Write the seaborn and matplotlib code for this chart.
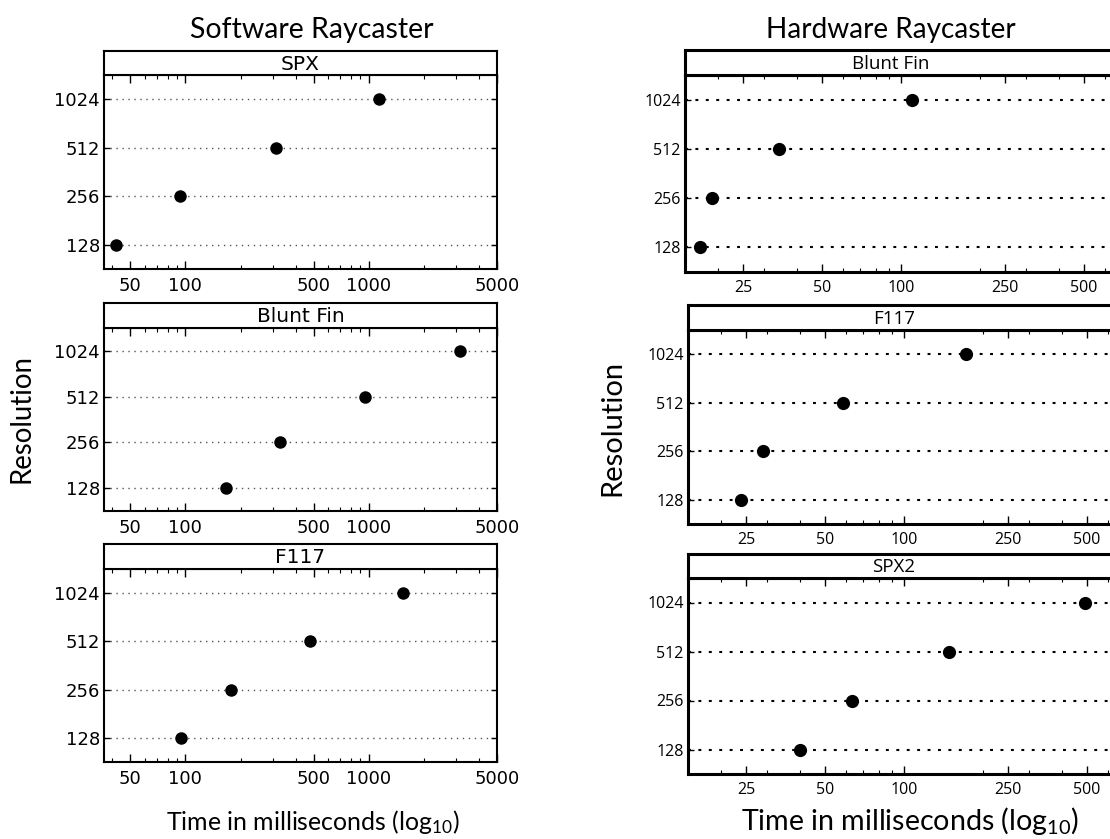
import matplotlib
matplotlib.use("Agg")
import matplotlib.pyplot as plt
import matplotlib.ticker as mticker
import pandas as pd
import seaborn as sns

# Volume resolutions (bottom to top) and rendering times in milliseconds
resolutions = ["128", "256", "512", "1024"]
res_order = ["1024", "512", "256", "128"]

sw_datasets = ["SPX", "Blunt Fin", "F117"]
sw_spx = [42, 94, 310, 1140]
sw_blunt_fin = [167, 330, 950, 3130]
sw_f117 = [95, 178, 478, 1540]

hw_datasets = ["Blunt Fin", "F117", "SPX2"]
hw_blunt_fin = [17.1, 19.0, 34.2, 110]
hw_f117 = [23.9, 29.0, 58.4, 172]
hw_spx2 = [40.1, 63.3, 148, 489]

sw_xticks = [50, 100, 500, 1000, 5000]
hw_xticks = [25, 50, 100, 250, 500]

sns.set_theme(style="white")
plt.rcParams["font.family"] = ["DejaVu Sans"]
plt.rcParams["text.color"] = "black"
plt.rcParams["axes.labelcolor"] = "black"
plt.rcParams["xtick.color"] = "black"
plt.rcParams["ytick.color"] = "black"
plt.rcParams["mathtext.fontset"] = "custom"
plt.rcParams["mathtext.rm"] = "Lato"
plt.rcParams["mathtext.it"] = "Lato"

TITLE_FONT = "Lato"

W, H = 1110, 839
fig = plt.figure(figsize=(W / 100, H / 100), dpi=100)
fig.patch.set_facecolor("white")


def box(left, top, right, bottom):
    """Axes rectangle in figure fraction from pixel edges."""
    return [left / W, 1 - bottom / H, (right - left) / W, (bottom - top) / H]


def panel(rect, strip_rect, values, name, cfg):
    ax = fig.add_axes(rect)
    df = pd.DataFrame({"Time": values, "Resolution": resolutions})
    sns.stripplot(data=df, x="Time", y="Resolution", order=res_order,
                  jitter=False, color="black", size=cfg["msize"],
                  linewidth=0, log_scale=(True, False), ax=ax, zorder=3)
    ax.set_xlim(*cfg["xlim"])
    ax.set_ylim(3.5, -0.5)
    ax.xaxis.set_major_locator(mticker.FixedLocator(cfg["xticks"]))
    ax.xaxis.set_major_formatter(mticker.FixedFormatter([str(t) for t in cfg["xticks"]]))
    ax.xaxis.set_minor_locator(mticker.LogLocator(base=10, subs=range(2, 10)))
    ax.xaxis.set_minor_formatter(mticker.NullFormatter())
    ax.set_axisbelow(True)
    ax.xaxis.grid(False)
    ax.yaxis.grid(True, linestyle=cfg["gls"], linewidth=cfg["glw"],
                  color=cfg["gcolor"])
    ax.tick_params(axis="x", which="major", direction="in", top=True,
                   bottom=True, length=cfg["major_len"], width=1,
                   color="black", labelsize=cfg["tsize"], pad=6)
    ax.tick_params(axis="x", which="minor", direction="in", top=True,
                   bottom=True, length=3, width=0.8, color="black")
    ax.tick_params(axis="y", which="major", direction="in", left=True,
                   right=True, length=4, width=1, color="black",
                   labelsize=cfg["tsize"], pad=3)
    for lab in ax.get_xticklabels() + ax.get_yticklabels():
        lab.set_family(cfg["tfont"])
        lab.set_color("black")
    for sp in ax.spines.values():
        sp.set_visible(True)
        sp.set_color("black")
        sp.set_linewidth(cfg["spw"])
    ax.set_xlabel("")
    ax.set_ylabel("")

    sax = fig.add_axes(strip_rect)
    sax.set_xticks([])
    sax.set_yticks([])
    sax.set_facecolor("white")
    for sp in sax.spines.values():
        sp.set_visible(True)
        sp.set_color("black")
        sp.set_linewidth(cfg["spw"])
    sax.text(cfg["strip_cx"], 0.45, name, ha="center", va="center",
             transform=sax.transAxes, fontsize=cfg["ssize"],
             family=cfg["sfont"], color="black")
    return ax


sw_cfg = dict(xlim=(36, 5000), xticks=sw_xticks, msize=9, gls=(0, (1, 3.3)),
              glw=1.0, gcolor="#555555", major_len=6, tsize=13,
              tfont="DejaVu Sans", spw=1.5, ssize=14.5, sfont="DejaVu Sans",
              strip_cx=0.5)
hw_cfg = dict(xlim=(15, 1000), xticks=hw_xticks, msize=9.5,
              gls=(0, (1.4, 3.6)), glw=1.5, gcolor="black", major_len=6,
              tsize=11.5, tfont="Open Sans", spw=2.2, ssize=13.5,
              sfont="Open Sans", strip_cx=0.5)

sw_values = [sw_spx, sw_blunt_fin, sw_f117]
sw_rows = [(51, 75, 269), (303, 328, 511), (544, 569, 762)]
for vals, name, (st, top, bot) in zip(sw_values, sw_datasets, sw_rows):
    panel(box(104, top, 497, bot), box(104, st, 497, top), vals, name, sw_cfg)

hw_values = [hw_blunt_fin, hw_f117, hw_spx2]
hw_rows = [(50, 75, 272), (305, 330, 524), (554, 578, 774)]
hw_left = [685, 688, 688]
hw_cfg["strip_cx"] = (891 - 685) / (1163 - 685)
for vals, name, (st, top, bot), lft in zip(hw_values, hw_datasets, hw_rows, hw_left):
    panel(box(lft, top, lft + 478, bot), box(lft, st, lft + 478, top),
          vals, name, hw_cfg)

# Column titles and shared axis labels
fig.text(312 / W, 1 - 30 / H, "Software Raycaster", ha="center", va="center",
         fontsize=20.5, family=TITLE_FONT)
fig.text(891 / W, 1 - 30 / H, "Hardware Raycaster", ha="center", va="center",
         fontsize=20.2, family=TITLE_FONT)
fig.text(22 / W, 1 - 418 / H, "Resolution", ha="center", va="center",
         rotation=90, fontsize=19.9, family=TITLE_FONT)
fig.text(612 / W, 1 - 428 / H, "Resolution", ha="center", va="center",
         rotation=90, fontsize=21, family=TITLE_FONT)
fig.text(313 / W, 1 - 822 / H, r"Time in milliseconds (log$_{10}$)",
         ha="center", va="center", fontsize=17.9, family=TITLE_FONT)
fig.text(910 / W, 1 - 821 / H, r"Time in milliseconds (log$_{10}$)",
         ha="center", va="center", fontsize=20.6, family=TITLE_FONT)

fig.savefig("out.png", dpi=100, facecolor="white")
